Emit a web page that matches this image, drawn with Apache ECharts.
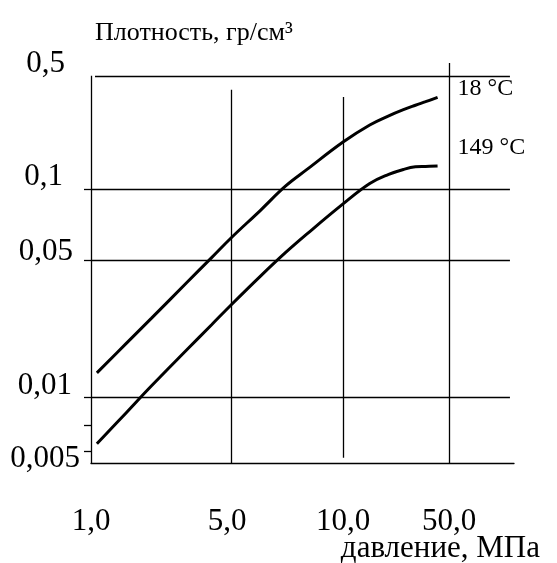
<!DOCTYPE html>
<html><head><meta charset="utf-8">
<script src="https://cdn.jsdelivr.net/npm/echarts@6/dist/echarts.min.js"></script>
<style>html,body{margin:0;padding:0;background:#fff}#c{width:557px;height:563px}</style>
</head><body><div id="c"></div>
<script>
// ---- data ----
const pressure   = [1.07, 1.5, 2, 3, 4, 5, 6, 7, 8, 10, 15, 20, 25, 30, 35, 42];
const density18  = [0.0133, 0.0188, 0.0252, 0.0383, 0.0512, 0.062, 0.0812, 0.104, 0.132, 0.195, 0.2485, 0.283, 0.309, 0.329, 0.346, 0.368];
const density149 = [0.0055, 0.0082, 0.0114, 0.0174, 0.0234, 0.0295, 0.0414, 0.0537, 0.0645, 0.0864, 0.108, 0.123, 0.132, 0.137, 0.1378, 0.1387];
const seriesNames = ['18 °C', '149 °C'];
const xTickValues = [1, 5, 10, 50];
const xTickLabels = ['1,0', '5,0', '10,0', '50,0'];
const yTickValues = [0.5, 0.1, 0.05, 0.01, 0.005];
const yTickLabels = ['0,5', '0,1', '0,05', '0,01', '0,005'];
const yMinorTicks = [0.007];
const xName = 'давление, МПа';
const yName = 'Плотность, гр/см³';

// ---- schematic (hand-drawn) logarithmic scale: axis units of each tick ----
const xAnchorU = [0, 0.5556, 1, 1.4206];
const yAnchorU = [-0.4567, -1, -1.3413, -2, -2.2596];
function makeScale(vals, us) {
  const L = vals.map(v => Math.log10(v));
  const n = L.length;
  return function (v) {
    const lv = Math.log10(v);
    const t = (lv - L[0]) / (L[n - 1] - L[0]);
    let i;
    if (t <= 0) i = 0;
    else if (t >= 1) i = n - 2;
    else { for (i = 0; i < n - 2; i++) { if ((lv - L[i]) * (lv - L[i + 1]) <= 0) break; } }
    return us[i] + (lv - L[i]) / (L[i + 1] - L[i]) * (us[i + 1] - us[i]);
  };
}
const xU = makeScale(xTickValues, xAnchorU);
const yU = makeScale(yTickValues, yAnchorU);

// axis extents (in data values)
const xMinV = 1, xMaxV = 134, gridRightV = 126, topLineStartV = 1.047;
const yMinV = 0.0043, yMaxV = 0.6;
// vertical rule extents [x, yFrom, yTo]
const vRules = [[1, yMinV, 0.5], [5, yMinV, 0.41], [10, 0.0046, 0.37], [50, yMinV, 0.6]];

const FONT = '"Liberation Serif", "Times New Roman", serif';
const TICK_FS = 31;
const ruleData = [];
yTickValues.slice(0, 4).forEach((v, i) => {
  ruleData.push([{ coord: [xU(i === 0 ? topLineStartV : xMinV), yU(v)] }, { coord: [xU(gridRightV), yU(v)] }]);
});
vRules.forEach(r => ruleData.push([{ coord: [xU(r[0]), yU(r[1])] }, { coord: [xU(r[0]), yU(r[2])] }]));

function nearestIdx(arr, u) {
  let b = 0, d = Infinity;
  arr.forEach((a, i) => { const dd = Math.abs(a - u); if (dd < d) { d = dd; b = i; } });
  return b;
}
const yLabU = yTickValues.map(yU);
const xLabU = xTickValues.map(xU);
const yRich = {
  l0: { padding: [0, 18, 24, 0] },
  l1: { padding: [0, 20, 24, 0] },
  l2: { padding: [0, 10, 16, 0] },
  l3: { padding: [0, 11, 22, 0] },
  l4: { padding: [16, 3, 0, 0] }
};
Object.values(yRich).forEach(s => { s.fontSize = TICK_FS; s.fontFamily = FONT; s.color = '#000'; s.lineHeight = TICK_FS; });
const xRich = {
  x0: { padding: [0, 0, 0, 0] },
  x1: { padding: [0, 8, 0, 0] },
  x2: { padding: [0, 0, 0, 0] },
  x3: { padding: [0, 0, 0, 0] }
};
Object.values(xRich).forEach(s => { s.fontSize = TICK_FS; s.fontFamily = FONT; s.color = '#000'; s.lineHeight = TICK_FS; });

const chart = echarts.init(document.getElementById('c'), null, { renderer: 'canvas' });
chart.setOption({
  animation: false,
  backgroundColor: '#fff',
  title: [
    { text: yName, left: 90, top: 15, textStyle: { fontFamily: FONT, fontSize: 26, fontWeight: 'normal', color: '#000' } },
    { text: xName, right: 12, top: 528, textStyle: { fontFamily: FONT, fontSize: 31, fontWeight: 'normal', color: '#000' } }
  ],
  grid: { left: 91, right: 43, top: 63, bottom: 100, containLabel: false },
  xAxis: {
    type: 'value', min: xU(xMinV), max: xU(xMaxV),
    axisLine: { show: true, onZero: false, lineStyle: { color: '#000', width: 1.3 } },
    axisTick: { show: false },
    splitLine: { show: false },
    axisLabel: {
      customValues: xLabU, margin: 43, fontSize: TICK_FS, fontFamily: FONT, color: '#000',
      formatter: (val) => { const i = nearestIdx(xLabU, val); return '{x' + i + '|' + xTickLabels[i] + '}'; },
      rich: xRich
    }
  },
  yAxis: {
    type: 'value', min: yU(yMinV), max: yU(yMaxV),
    axisLine: { show: false },
    axisTick: { show: true, customValues: yTickValues.slice(1).concat(yMinorTicks).map(yU), length: 7, lineStyle: { color: '#000', width: 1.3 } },
    splitLine: { show: false },
    axisLabel: {
      customValues: yLabU, margin: 8, fontSize: TICK_FS, fontFamily: FONT, color: '#000',
      formatter: (val) => { const i = nearestIdx(yLabU, val); return '{l' + i + '|' + yTickLabels[i] + '}'; },
      rich: yRich
    }
  },
  series: [
    {
      name: seriesNames[0], type: 'line', smooth: 0.4, symbol: 'none', clip: false,
      data: pressure.map((p, i) => [xU(p), yU(density18[i])]),
      lineStyle: { color: '#000', width: 3 },
      endLabel: { show: true, formatter: '{a}', offset: [12, -9], fontFamily: FONT, fontSize: 24, color: '#000' },
      markLine: {
        silent: true, symbol: ['none', 'none'], label: { show: false },
        lineStyle: { color: '#000', width: 1.3, type: 'solid' },
        emphasis: { disabled: true },
        data: ruleData
      }
    },
    {
      name: seriesNames[1], type: 'line', smooth: 0.4, symbol: 'none', clip: false,
      data: pressure.map((p, i) => [xU(p), yU(density149[i])]),
      lineStyle: { color: '#000', width: 3 },
      endLabel: { show: true, formatter: '{a}', offset: [12, -18], fontFamily: FONT, fontSize: 24, color: '#000' }
    }
  ]
});
</script>
</body></html>
